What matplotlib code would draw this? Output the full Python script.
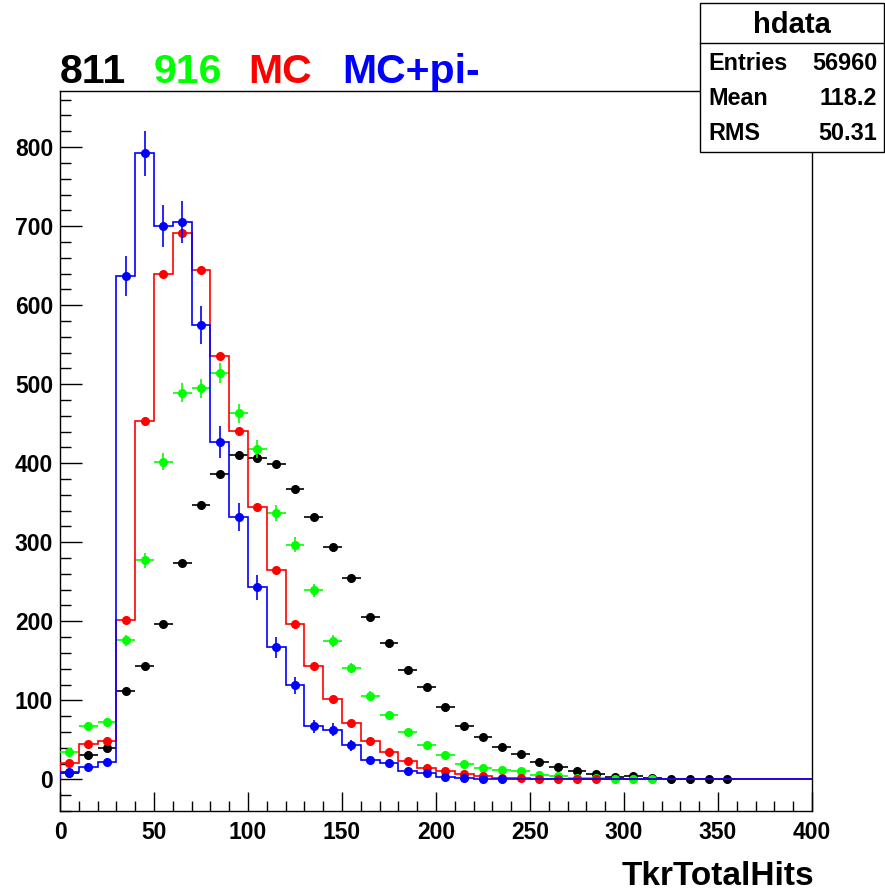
import numpy as np
import matplotlib
matplotlib.use("Agg")
import matplotlib.pyplot as plt
import matplotlib.patches as patches
from matplotlib.ticker import MultipleLocator
import matplotlib.transforms as mtransforms

plt.rcParams['font.family'] = ['Liberation Sans', 'DejaVu Sans']
plt.rcParams['font.weight'] = 'bold'

# Binning: 40 bins of width 10 from 0 to 400
edges = np.arange(0, 410, 10)
centers = edges[:-1] + 5

# Bin contents
data_811 = [8, 31, 40, 112, 144, 196, 274, 347, 386, 411,
            407, 399, 368, 332, 294, 255, 206, 172, 138, 117,
            91, 68, 53, 41, 32, 22, 16, 11, 7, 3,
            4.4, 1.5, 0.6, 0.6, 0.8, 0.5, 0, 0, 0, 0]
data_916 = [35, 68, 73, 176, 277, 402, 489, 495, 514, 463,
            418, 337, 297, 239, 175, 141, 106, 82, 60, 43,
            31, 19, 15, 12, 10, 6, 4, 2, 1.5, 1,
            1, 1, 0, 0, 0, 0, 0, 0, 0, 0]
mc = [21, 45, 49, 202, 454, 639, 691, 644, 536, 441,
      345, 265, 196, 143, 102, 71, 48, 35, 23, 15,
      10, 7, 4, 2.3, 1.7, 1, 1, 0.6, 0.5, 0,
      0, 0, 0, 0, 0, 0, 0, 0, 0, 0]
mc_pi = [9, 16, 22, 637, 792, 700, 705, 575, 427, 332,
         243, 167, 119, 67, 63, 43, 24, 21, 10, 8,
         3, 1.5, 1, 1, 0, 0, 0, 0, 0, 0,
         0, 0, 0, 0, 0, 0, 0, 0, 0, 0]

# scale factors used to get the (scaled) poisson errors of each sample
scale_811 = 0.02
scale_916 = 0.3

labels = ['811', '916', 'MC', 'MC+pi-']
label_x = [0, 50, 100, 150]
colors = ['black', '#00ff00', '#ff0000', '#0000ff']

stats_names = ['Entries', 'Mean', 'RMS']
stats_values = ['56960', '118.2', '50.31']

fig = plt.figure(figsize=(8.85, 8.91), dpi=100)
ax = fig.add_axes([0.0678, 0.0898, 0.8497, 0.8081])

d811 = np.array(data_811)
d916 = np.array(data_916)
dmc = np.array(mc)
dpi = np.array(mc_pi)

# 811: points with horizontal bins
m = d811 > 0
ax.errorbar(centers[m], d811[m], xerr=5, yerr=np.sqrt(scale_811 * d811[m]),
            fmt='o', color=colors[0], ms=5.5, elinewidth=1.2, capsize=0, zorder=3)

# 916
m = d916 > 0
ax.errorbar(centers[m], d916[m], xerr=5, yerr=np.sqrt(scale_916 * d916[m]),
            fmt='o', color=colors[1], ms=5.5, elinewidth=1.2, capsize=0, zorder=4)

# MC histogram
ax.stairs(dmc, edges, color=colors[2], lw=1.2, zorder=5)
m = dmc > 0
ax.plot(centers[m], dmc[m], 'o', color=colors[2], ms=5.5, zorder=5)

# MC+pi- histogram
ax.stairs(dpi, edges, color=colors[3], lw=1.2, zorder=6)
m = dpi > 0
ax.errorbar(centers[m], dpi[m], yerr=np.sqrt(dpi[m]), fmt='o', color=colors[3],
            ms=5.5, elinewidth=1.2, capsize=0, zorder=6)

ax.set_xlim(0, 400)
ax.set_ylim(-40, 871)
ax.xaxis.set_major_locator(MultipleLocator(50))
ax.xaxis.set_minor_locator(MultipleLocator(10))
ax.yaxis.set_major_locator(MultipleLocator(100))
ax.yaxis.set_minor_locator(MultipleLocator(20))
ax.tick_params(axis='both', which='both', direction='in', top=False, right=False,
               width=1, labelsize=16.5)
ax.tick_params(axis='x', which='major', length=14, pad=7)
ax.tick_params(axis='x', which='minor', length=7)
ax.tick_params(axis='y', which='major', length=16, pad=5)
ax.tick_params(axis='y', which='minor', length=8)
for lab in ax.get_xticklabels() + ax.get_yticklabels():
    lab.set_fontweight('bold')
for sp in ax.spines.values():
    sp.set_linewidth(1)

# coloured title entries
trans = mtransforms.blended_transform_factory(ax.transData, fig.transFigure)
for txt, xx, col in zip(labels, label_x, colors):
    ax.text(xx, 0.9063, txt, transform=trans, color=col, fontsize=29.5,
            fontweight='bold', ha='left', va='baseline', clip_on=False)

fig.text(0.9197, 0.007, 'TkrTotalHits', ha='right', va='baseline',
         fontsize=24, fontweight='bold')

# stats box
box = patches.Rectangle((0.791, 0.8294), 0.2075, 0.1672, transform=fig.transFigure,
                        facecolor='white', edgecolor='black', lw=1, zorder=10)
fig.patches.append(box)
fig.add_artist(matplotlib.lines.Line2D([0.791, 0.9985], [0.9517, 0.9517],
                                       transform=fig.transFigure, color='black', lw=1, zorder=11))
fig.text(0.895, 0.972, 'hdata', ha='center', va='center', fontsize=21,
         fontweight='bold', zorder=12)
for i, (nm, val) in enumerate(zip(stats_names, stats_values)):
    yy = 0.929 - i * 0.0395
    fig.text(0.8, yy, nm, ha='left', va='center', fontsize=16.8, fontweight='bold', zorder=12)
    fig.text(0.991, yy, val, ha='right', va='center', fontsize=16.8, fontweight='bold', zorder=12)

fig.savefig('out.png', dpi=100)
